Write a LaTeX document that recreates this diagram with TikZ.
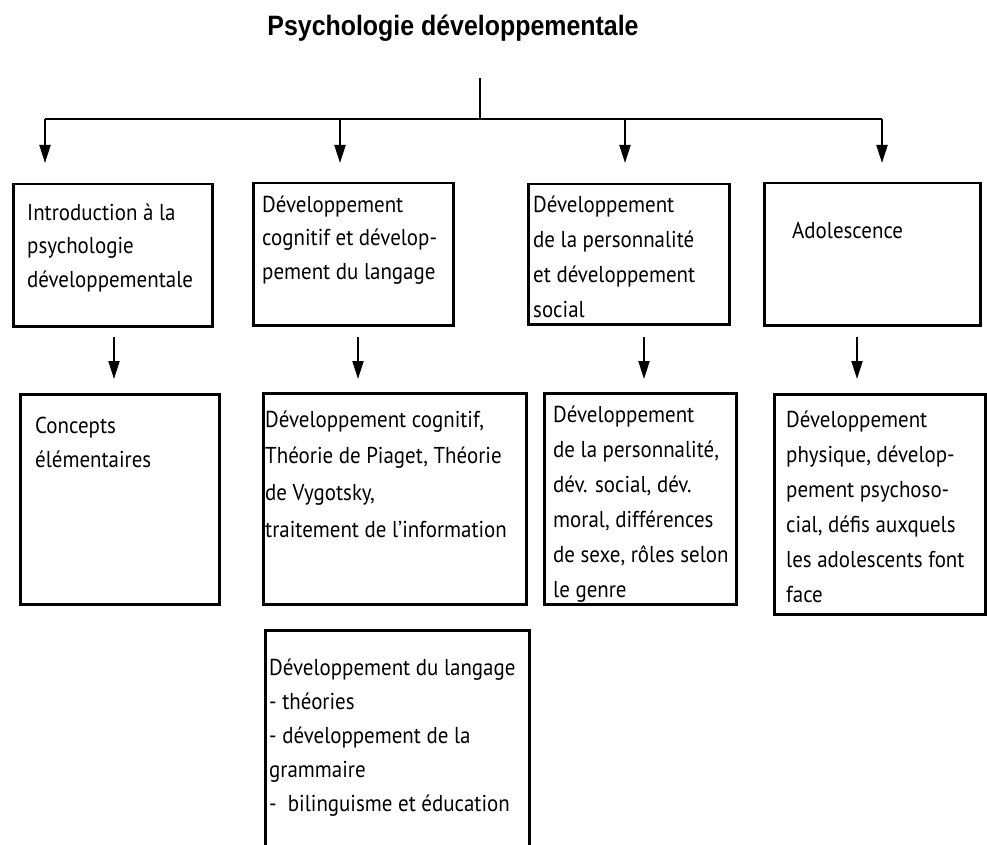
\documentclass[tikz,border=0pt]{standalone}
\usepackage{fontspec}
\setmainfont{PT Sans}
\newfontfamily\bodyfont[FakeStretch=0.91]{PT Sans}
\newfontfamily\titlefont[FakeStretch=0.89]{Liberation Sans}
\usetikzlibrary{arrows.meta}
\tikzset{
  boxnode/.style={draw, line width=2.5pt, anchor=north west, inner sep=0pt, rectangle},
  txt/.style={anchor=north west, inner sep=0pt, align=left, font=\bodyfont\fontsize{23}{35}\selectfont},
  conn/.style={line width=2pt},
  arr/.style={line width=2pt, -{Triangle[length=18pt,width=11pt]}},
}
\begin{document}
\begin{tikzpicture}[x=1pt,y=-1pt]
\useasboundingbox (0,0) rectangle (987,845);
\clip (0,0) rectangle (987,845);

% title
\node[anchor=base, inner sep=0pt, font=\titlefont\bfseries\fontsize{28}{32}\selectfont] (title) at (453,36) {Psychologie développementale};

% top distribution
\coordinate (stemtop) at (480,78);
\coordinate (junc) at (480,119);
\coordinate (barL) at (45,119);
\coordinate (barR) at (882,119);
\draw[conn] (stemtop) -- (junc);
\draw[conn] (barL) -- (barR);
\coordinate (a1s) at (45,119);  \coordinate (a1e) at (45,163);
\coordinate (a2s) at (340,119); \coordinate (a2e) at (340,163);
\coordinate (a3s) at (625,119); \coordinate (a3e) at (625,163);
\coordinate (a4s) at (882,119); \coordinate (a4e) at (882,163);
\draw[arr] (a1s) -- (a1e);
\draw[arr] (a2s) -- (a2e);
\draw[arr] (a3s) -- (a3e);
\draw[arr] (a4s) -- (a4e);

% first row boxes
\node[boxnode, minimum width=199pt, minimum height=142pt] (b1) at (12,183) {};
\node[boxnode, minimum width=200pt, minimum height=142pt] (b2) at (252,182) {};
\node[boxnode, minimum width=201pt, minimum height=140pt] (b3) at (527,183) {};
\node[boxnode, minimum width=216pt, minimum height=142pt] (b4) at (763,182) {};

\node[txt, font=\bodyfont\fontsize{23}{33.7}\selectfont] (t1) at (27,{220-0.7*33.7}) {\strut Introduction à la\\psychologie\\développementale};
\node[txt, font=\bodyfont\fontsize{23}{33.5}\selectfont] (t2) at (262,{212-0.7*33.5}) {\strut Développement\\cognitif et dévelop-\\pement du langage};
\node[txt, font=\bodyfont\fontsize{23}{35}\selectfont] (t3) at (533,{212-0.7*35}) {\strut Développement\\de la personnalité\\et développement\\social};
\node[txt] (t4) at (792,{238-0.7*35}) {\strut Adolescence};

% second row arrows
\coordinate (d1s) at (114,337); \coordinate (d1e) at (114,379);
\coordinate (d2s) at (358,337); \coordinate (d2e) at (358,379);
\coordinate (d3s) at (644,337); \coordinate (d3e) at (644,379);
\coordinate (d4s) at (857,337); \coordinate (d4e) at (857,379);
\draw[arr] (d1s) -- (d1e);
\draw[arr] (d2s) -- (d2e);
\draw[arr] (d3s) -- (d3e);
\draw[arr] (d4s) -- (d4e);

% second row boxes
\node[boxnode, minimum width=199pt, minimum height=210pt] (c1) at (19,393) {};
\node[boxnode, minimum width=263pt, minimum height=211pt] (c2) at (262,392) {};
\node[boxnode, minimum width=192pt, minimum height=211pt] (c3) at (543,392) {};
\node[boxnode, minimum width=211pt, minimum height=220pt] (c4) at (773,393) {};
\node[boxnode, minimum width=264pt, minimum height=260pt] (c5) at (264,629) {};

\node[txt, font=\bodyfont\fontsize{23}{34}\selectfont] (u1) at (35,{433-0.7*34}) {\strut Concepts\\élémentaires};
\node[txt, font=\bodyfont\fontsize{23}{36.7}\selectfont] (u2) at (265,{427-0.7*36.7}) {\strut Développement cognitif,\\Théorie de Piaget, Théorie\\de Vygotsky,\\traitement de l’information};
\node[txt] (u3) at (553,{422-0.7*35}) {\strut Développement\\de la personnalité,\\dév. social, dév.\\moral, différences\\de sexe, rôles selon\\le genre};
\node[txt] (u4) at (786,{427-0.7*35}) {\strut Développement\\physique, dévelop-\\pement psychoso-\\cial, défis auxquels\\les adolescents font\\face};
\node[txt, font=\bodyfont\fontsize{23}{34}\selectfont] (u5) at (269,{675-0.7*34}) {\strut Développement du langage\\- théories\\- développement de la\\grammaire\\-\ \ bilinguisme et éducation};
\end{tikzpicture}
\end{document}
